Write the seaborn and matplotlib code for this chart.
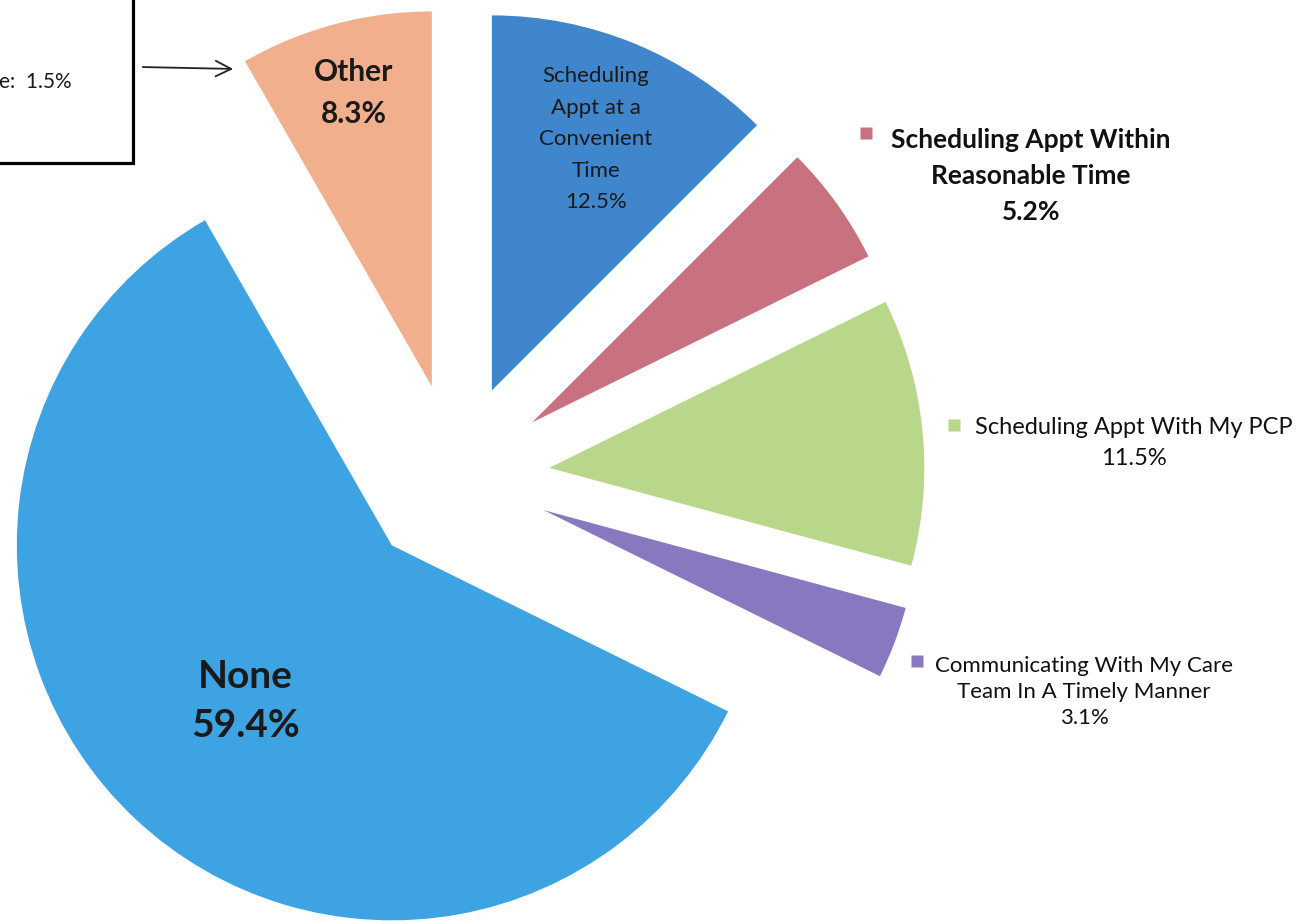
import numpy as np
import matplotlib
matplotlib.use("Agg")
import matplotlib.pyplot as plt
import seaborn as sns

# slices, clockwise from 12 o'clock
categories = ["Scheduling Appt at a Convenient Time",
              "Scheduling Appt Within Reasonable Time",
              "Scheduling Appt With My PCP",
              "Communicating With My Care Team In A Timely Manner",
              "None",
              "Other"]
shares = [12.5, 5.2, 11.5, 3.1, 59.4, 8.3]
box_note = "e:  1.5%"

colors = ["#3F86CC", "#C8717F", "#B9D78B", "#8878C0", "#3DA3E2", "#F1AF8D"]

sns.set_theme(style="white")
plt.rcParams['font.family'] = ['Lato', 'DejaVu Sans']

W, H = 1301, 924
CX, CY, R = 456, 477, 375   # pie centre and radius in pixels

def px(x, y):
    # pixel (from top-left) -> data units
    return (x - CX) / R, (CY - y) / R

fig = plt.figure(figsize=(W / 100, H / 100), dpi=100)
ax = fig.add_axes([0, 0, 1, 1])

wedges, _ = ax.pie(shares, colors=sns.color_palette(colors), startangle=90,
                   counterclock=False, explode=[0.25] * len(shares),
                   wedgeprops=dict(linewidth=0), radius=1.0)
ax.set_aspect("auto")
ax.set_xlim(-CX / R, (W - CX) / R)
ax.set_ylim(-(H - CY) / R, CY / R)
ax.set_axis_off()

# labels inside the slices
inside = {0: (0.975, "Scheduling\nAppt at a\nConvenient\nTime\n{:.1f}%", 16, "normal", 1.72),
          5: (1.06, "Other\n{:.1f}%", 21.5, "bold", 1.6),
          4: (0.82, "None\n{:.1f}%", 28, "bold", 1.5)}
for i, (dist, fmt, size, weight, ls) in inside.items():
    w = wedges[i]
    mid = np.deg2rad((w.theta1 + w.theta2) / 2)
    ax.text(dist * np.cos(mid), dist * np.sin(mid), fmt.format(shares[i]),
            ha="center", va="center", fontsize=size, fontweight=weight,
            color="#1a1a1a", linespacing=ls)

# labels outside, with legend-style colour keys
outside = [(1, (866, 133), (1031, 176), "Scheduling Appt Within\nReasonable Time\n{:.1f}%", 19, "bold", 1.6),
           (2, (954, 425), (1134, 443), "Scheduling Appt With My PCP\n{:.1f}%", 17, "normal", 1.55),
           (3, (917, 661), (1084, 692), "Communicating With My Care\nTeam In A Timely Manner\n{:.1f}%", 16, "normal", 1.35)]
for i, key, pos, fmt, size, weight, ls in outside:
    ax.plot(*px(*key), marker="s", ms=8, color=colors[i], mec="none")
    ax.text(*px(*pos), fmt.format(shares[i]), ha="center", va="center",
            fontsize=size, fontweight=weight, color="#111111", linespacing=ls)

# cut-off note box with arrow pointing at "Other"
bx, by = zip(px(133, -10), px(133, 163), px(-10, 163))
ax.plot(bx, by, color="black", lw=2.3, solid_joinstyle="miter")
ax.text(*px(-1, 82), box_note, ha="left", va="center", fontsize=15, color="#1a1a1a")
ax.annotate("", xy=px(236, 69), xytext=px(140, 67),
            arrowprops=dict(arrowstyle="->", lw=1.3, color="#222222", mutation_scale=28))

fig.savefig("out.png", dpi=100)
